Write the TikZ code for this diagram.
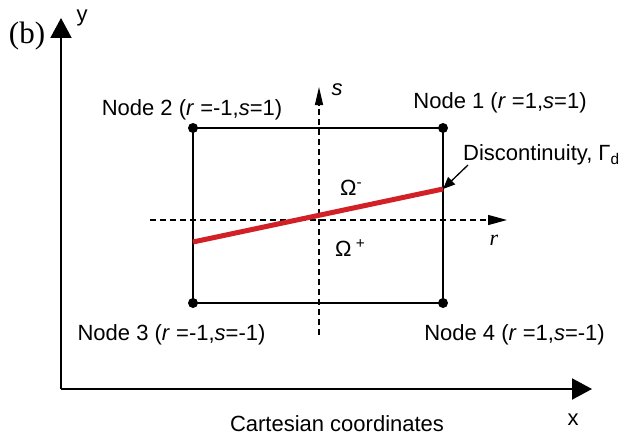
\documentclass[tikz,border=0pt]{standalone}
\usepackage{fontspec}
\setmainfont{Liberation Sans}
\newfontfamily\seriffont{Liberation Serif}
\usetikzlibrary{arrows.meta}
\definecolor{discred}{RGB}{210,32,39}
\begin{document}
\begin{tikzpicture}[x=1pt,y=-1pt,
  lbl/.style={font=\fontsize{22}{26}\selectfont, inner sep=0pt, anchor=base},
  bigaxis/.style={line width=2pt, -{Triangle[length=20pt,width=21pt]}},
  dashaxis/.style={line width=1.3pt, dash pattern=on 6pt off 4pt},
  edgeline/.style={line width=1.3pt},
  dot/.style={circle, fill=black, inner sep=0pt, minimum size=10pt},
]
\useasboundingbox (0,0) rectangle (620,436);
% Cartesian axes
\coordinate (O) at (61,389);
\coordinate (Ytip) at (61,18);
\coordinate (Xtip) at (592,389);
\draw[bigaxis] (O) -- (Ytip);
\draw[bigaxis] (O) -- (Xtip);
\node[lbl] (ylab) at (82,22) {y};
\node[lbl] (xlab) at (573,425) {x};
\node[lbl] (cart) at (337,431) {Cartesian coordinates};
\node[inner sep=0pt, anchor=base, font=\seriffont\fontsize{31}{34}\selectfont] (blab) at (27,44) {(b)};
% natural axes
\coordinate (rstart) at (150,220);
\coordinate (rtip) at (507,220);
\coordinate (sstart) at (319,335);
\coordinate (stip) at (319,87);
\draw[dashaxis, -{Triangle[length=19pt,width=10pt]}] (rstart) -- (rtip);
\draw[dashaxis, -{Triangle[length=18pt,width=8pt]}] (sstart) -- (stip);
\node[lbl, font=\seriffont\itshape\fontsize{22}{26}\selectfont] (rlab) at (494,245) {r};
\node[lbl, font=\itshape\fontsize{22}{26}\selectfont] (slab) at (337,95) {s};
% element
\coordinate (c1) at (443,128);
\coordinate (c2) at (193,128);
\coordinate (c3) at (193,303);
\coordinate (c4) at (443,303);
\draw[edgeline] (c1) -- (c2) -- (c3) -- (c4) -- cycle;
% discontinuity
\coordinate (dL) at (193,242);
\coordinate (dR) at (443,189);
\draw[discred, line width=5pt] (dL) -- (dR);
\node[dot] (d1) at (c1) {};
\node[dot] (d2) at (c2) {};
\node[dot] (d3) at (c3) {};
\node[dot] (d4) at (c4) {};
\node[lbl] (n1lab) at (500,108) {Node 1 (\textit{r} =1,\textit{s}=1)};
\node[lbl] (n2lab) at (192,115) {Node 2 (\textit{r} =-1,\textit{s}=1)};
\node[lbl] (n3lab) at (171.5,340) {Node 3 (\textit{r} =-1,\textit{s}=-1)};
\node[lbl] (n4lab) at (514.5,340) {Node 4 (\textit{r} =1,\textit{s}=-1)};
\node[lbl, anchor=base west] (disclab) at (463,160) {Discontinuity, Γ\textsubscript{d}};
\coordinate (arrstart) at (468,165);
\draw[line width=1.3pt, -{Triangle[length=12pt,width=10pt]}] (arrstart) -- (dR);
\node[lbl, anchor=base west] (omm) at (340,195) {Ω\textsuperscript{-}};
\node[lbl, anchor=base west] (omp) at (335,256) {Ω\textsuperscript{ +}};
\end{tikzpicture}
\end{document}
